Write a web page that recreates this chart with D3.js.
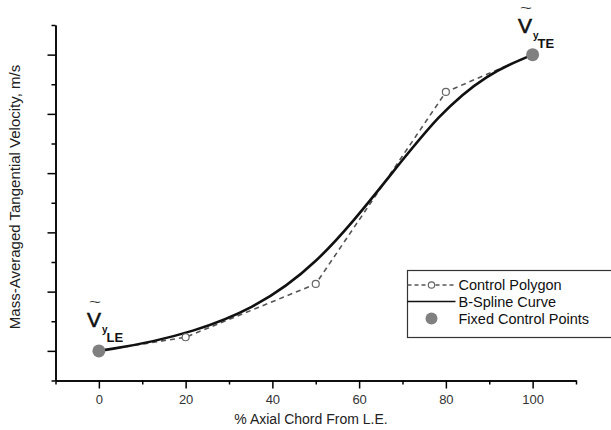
<!DOCTYPE html>
<html>
<head>
<meta charset="utf-8">
<script src="https://cdn.jsdelivr.net/npm/d3@7"></script>
<style>
  body { margin: 0; background: #fff; }
  svg { font-family: "Liberation Sans", Arial, sans-serif; }
</style>
</head>
<body>
<div id="chart"></div>
<script>
// control polygon (x = % axial chord, y = velocity in tick units)
var ctrlX = [0, 20, 50, 80, 100];
var ctrlY = [0, 0.23, 1.13, 4.37, 5.0];
var fixedIdx = [0, 4];
var xMajor = [0, 20, 40, 60, 80, 100];
var xMinor = [-10, 10, 30, 50, 70, 90, 110];
var yMajor = [0, 1, 2, 3, 4, 5];
var yMinor = [-0.5, 0.5, 1.5, 2.5, 3.5, 4.5, 5.5];
var legendLabels = ["Control Polygon", "B-Spline Curve", "Fixed Control Points"];

var W = 611, H = 430;

var svg = d3.select("#chart")
    .append("svg")
    .attr("width", W)
    .attr("height", H);

var x = d3.scaleLinear().domain([-10, 110]).range([55.5, 576]);
var y = d3.scaleLinear().domain([-0.5, 5.5]).range([380.5, 25]);

var pts = ctrlX.map(function(v, i) { return { x: v, y: ctrlY[i] }; });

// axes
var xAxisMinor = d3.axisBottom(x).tickValues(xMinor).tickSize(4).tickSizeOuter(0).tickFormat("");
var xAxisMajor = d3.axisBottom(x).tickValues(xMajor).tickSize(8).tickSizeOuter(0).tickPadding(6);
var yAxisMinor = d3.axisLeft(y).tickValues(yMinor).tickSize(4).tickSizeOuter(0).tickFormat("");
var yAxisMajor = d3.axisLeft(y).tickValues(yMajor).tickSize(8).tickSizeOuter(0).tickFormat("");

svg.append("g").attr("transform", "translate(0,380.5)").call(xAxisMinor);
var gx = svg.append("g").attr("transform", "translate(0,380.5)").call(xAxisMajor);
svg.append("g").attr("transform", "translate(55.5,0)").call(yAxisMinor);
svg.append("g").attr("transform", "translate(55.5,0)").call(yAxisMajor);

svg.selectAll(".domain").attr("stroke", "#000").attr("stroke-width", 1.5);
svg.selectAll(".tick line").attr("stroke", "#000").attr("stroke-width", 1.5);
gx.selectAll(".tick text")
    .attr("font-size", "13px")
    .attr("fill", "#333")
    .attr("font-family", "Liberation Sans, Arial, sans-serif");

// axis titles
svg.append("text")
    .attr("x", 311)
    .attr("y", 424)
    .attr("text-anchor", "middle")
    .attr("font-size", "14px")
    .attr("fill", "#222")
    .text("% Axial Chord From L.E.");

svg.append("text")
    .attr("transform", "translate(20,197) rotate(-90)")
    .attr("text-anchor", "middle")
    .attr("font-size", "15px")
    .attr("fill", "#222")
    .text("Mass-Averaged Tangential Velocity, m/s");

// control polygon
var polyLine = d3.line().x(function(d) { return x(d.x); }).y(function(d) { return y(d.y); });
svg.append("path")
    .datum(pts)
    .attr("d", polyLine)
    .attr("fill", "none")
    .attr("stroke", "#555")
    .attr("stroke-width", 1.6)
    .attr("stroke-dasharray", "5,4");

// b-spline curve from the same control points
var spline = d3.line()
    .x(function(d) { return x(d.x); })
    .y(function(d) { return y(d.y); })
    .curve(d3.curveBasis);
svg.append("path")
    .datum(pts)
    .attr("d", spline)
    .attr("fill", "none")
    .attr("stroke", "#111")
    .attr("stroke-width", 2.6);

// open control points (interior)
svg.selectAll("circle.open")
    .data(pts.filter(function(d, i) { return fixedIdx.indexOf(i) < 0; }))
    .enter()
    .append("circle")
    .attr("class", "open")
    .attr("cx", function(d) { return x(d.x); })
    .attr("cy", function(d) { return y(d.y); })
    .attr("r", 3.5)
    .attr("fill", "#fff")
    .attr("stroke", "#666")
    .attr("stroke-width", 1.2);

// fixed points
svg.selectAll("circle.fixed")
    .data(fixedIdx.map(function(i) { return pts[i]; }))
    .enter()
    .append("circle")
    .attr("class", "fixed")
    .attr("cx", function(d) { return x(d.x); })
    .attr("cy", function(d) { return y(d.y); })
    .attr("r", 6.5)
    .attr("fill", "#808080");

// V~ labels at the fixed points (vx, vy = left/baseline of the V)
function vLabel(vx, vy, sub) {
    var g = svg.append("g").attr("transform", "translate(" + vx + "," + vy + ")");
    g.append("text")
        .attr("transform", "translate(8,-21.5) scale(1.7,1)")
        .attr("text-anchor", "middle")
        .attr("font-size", "12px")
        .attr("fill", "#333")
        .text("~");
    g.append("text").attr("x", 0).attr("y", 0).attr("font-size", "21px")
        .attr("fill", "#111").attr("stroke", "#111").attr("stroke-width", 0.6)
        .text("V");
    g.append("text").attr("x", 15).attr("y", 6).attr("font-size", "10px")
        .attr("font-weight", "bold").attr("fill", "#111").text("y");
    g.append("text").attr("x", 19.5).attr("y", 15).attr("font-size", "13px")
        .attr("font-weight", "bold").attr("fill", "#111").text(sub);
}
vLabel(87, 327, "LE");
vLabel(518, 33, "TE");

// legend
var lg = svg.append("g").attr("transform", "translate(407.5,270.5)");
lg.append("rect")
    .attr("width", 210).attr("height", 67)
    .attr("fill", "#fff").attr("stroke", "#333").attr("stroke-width", 1.2);

lg.append("line").attr("x1", 0).attr("x2", 48).attr("y1", 14.5).attr("y2", 14.5)
    .attr("stroke", "#555").attr("stroke-width", 1.4).attr("stroke-dasharray", "4,3");
lg.append("circle").attr("cx", 24).attr("cy", 14.5).attr("r", 3.2)
    .attr("fill", "#fff").attr("stroke", "#666").attr("stroke-width", 1.2);
lg.append("line").attr("x1", 0).attr("x2", 48).attr("y1", 31).attr("y2", 31)
    .attr("stroke", "#111").attr("stroke-width", 1.4);
lg.append("circle").attr("cx", 24).attr("cy", 48).attr("r", 6)
    .attr("fill", "#808080");

lg.selectAll("text.leg")
    .data(legendLabels)
    .enter()
    .append("text")
    .attr("class", "leg")
    .attr("x", 51)
    .attr("y", function(d, i) { return 19.5 + i * 17; })
    .attr("font-size", "14.5px")
    .attr("fill", "#111")
    .text(function(d) { return d; });
</script>
</body>
</html>
